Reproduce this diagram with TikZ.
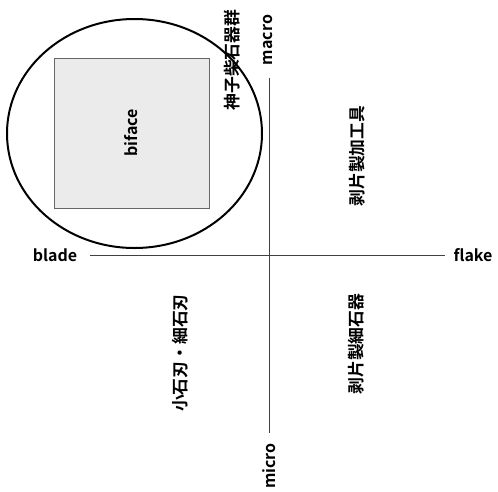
\documentclass[tikz,border=0pt]{standalone}
\usepackage{fontspec}
\usetikzlibrary{shapes.geometric}
\setmainfont{Noto Sans CJK JP}[BoldFont={* Bold}]
\newfontfamily\jpb{Noto Sans CJK JP Bold}
\begin{document}
\begin{tikzpicture}[x=1pt,y=-1pt,
  axis/.style={draw=black!75,line width=0.8pt},
  lbl/.style={font=\jpb\fontsize{16}{16}\selectfont,inner sep=0pt},
  jp/.style={font=\jpb\fontsize{16.8}{16.8}\selectfont,inner sep=0pt,rotate=90}]
\useasboundingbox (0,0) rectangle (498,491);
% axes endpoints
\coordinate (top) at (269,78);
\coordinate (bot) at (269,433);
\coordinate (lft) at (90,255);
\coordinate (rgt) at (445,255);
\draw[axis] (top) -- (bot);
\draw[axis] (lft) -- (rgt);
\node[lbl] (blade) at (55,255) {blade};
\node[lbl] (flake) at (473,255) {flake};
\node[lbl,rotate=90] (macro) at (268,40) {macro};
\node[lbl,rotate=90] (micro) at (269,466) {micro};
% square
\node[draw=black!60,fill=black!8,line width=0.8pt,minimum width=155pt,minimum height=150pt,inner sep=0pt] (sq) at (131.5,133) {};
\node[lbl,rotate=90] (biface) at (sq.center) {biface};
% texts
\node[jp] (kamiko) at (232,60) {神子柴石器群};
\node[jp] (hakuhen) at (357,156) {剥片製加工具};
\node[jp] (koishi) at (180,353) {小石刃・細石刃};
\node[jp] (hakuhen2) at (356,344) {剥片製細石器};
% ellipse
\node[draw=black,line width=2pt,ellipse,minimum width=255pt,minimum height=229pt,inner sep=0pt] (ell) at (134.5,133.5) {};
\end{tikzpicture}
\end{document}
